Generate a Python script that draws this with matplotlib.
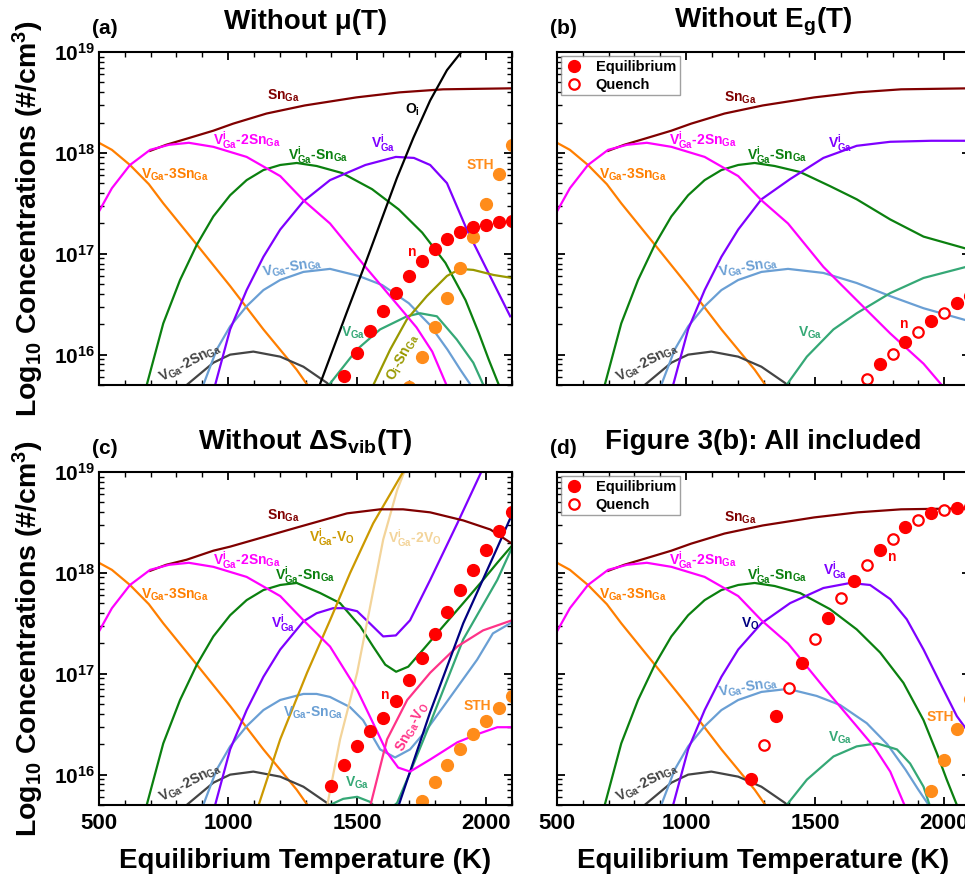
import matplotlib
matplotlib.use("Agg")
import matplotlib.pyplot as plt
import numpy as np
from matplotlib.ticker import LogLocator, MultipleLocator, FuncFormatter, NullFormatter
from matplotlib.lines import Line2D

plt.rcParams["font.family"] = ["Liberation Sans", "DejaVu Sans"]
plt.rcParams["font.weight"] = "bold"
plt.rcParams["axes.labelweight"] = "bold"
plt.rcParams["mathtext.fontset"] = "custom"
plt.rcParams["mathtext.rm"] = "Liberation Sans:bold"
plt.rcParams["mathtext.it"] = "Liberation Sans:bold"
plt.rcParams["mathtext.bf"] = "Liberation Sans:bold"

# ---- data: temperature (K) and log10 concentration (cm^-3)

# curves shared by several panels
sn_T = [698, 760, 839, 943, 1020, 1149, 1297, 1497, 1665, 1833, 2100]
sn_L = [18.02, 18.08, 18.14, 18.22, 18.29, 18.39, 18.47, 18.55, 18.60, 18.63, 18.64]

v2sn_T = [500, 550, 620, 698, 771, 848, 943, 1072, 1202, 1292, 1395, 1532, 1661, 1730, 1791, 1846]
v2sn_L = [17.42, 17.65, 17.88, 18.03, 18.08, 18.10, 18.06, 17.96, 17.77, 17.53, 17.30, 16.87, 16.48, 16.27, 16.03, 15.70]

v3sn_T = [500, 550, 620, 693, 749, 879, 1008, 1137, 1266, 1307]
v3sn_L = [18.10, 18.03, 17.88, 17.69, 17.50, 17.09, 16.68, 16.25, 15.85, 15.70]

vsn1_T = [685, 749, 814, 879, 943, 1008, 1072, 1137, 1202, 1266, 1343, 1442, 1558, 1661, 1752, 1842, 1920, 1972, 2010, 2049]
vsn1_L = [15.70, 16.31, 16.74, 17.09, 17.37, 17.58, 17.73, 17.83, 17.88, 17.90, 17.87, 17.80, 17.64, 17.44, 17.21, 16.91, 16.54, 16.21, 15.95, 15.70]

vgasn_T = [904, 956, 1008, 1072, 1137, 1202, 1292, 1395, 1506, 1597, 1700, 1780, 1850, 1900, 1945]
vgasn_L = [15.70, 16.05, 16.28, 16.48, 16.64, 16.74, 16.82, 16.85, 16.78, 16.69, 16.51, 16.30, 16.05, 15.85, 15.68]

v2sn_gray_T = [840, 943, 1008, 1098, 1202, 1292, 1383, 1400]
v2sn_gray_L = [15.70, 15.92, 16.00, 16.03, 15.98, 15.88, 15.72, 15.68]

# (a) without mu(T)
a_vi_T = [950, 1008, 1072, 1137, 1202, 1292, 1395, 1532, 1650, 1720, 1783, 1848, 1925, 2003, 2093]
a_vi_L = [15.70, 16.25, 16.64, 16.97, 17.24, 17.52, 17.73, 17.88, 17.96, 17.95, 17.88, 17.70, 17.24, 16.84, 16.38]
a_vga_T = [1391, 1499, 1589, 1693, 1744, 1809, 1886, 1950, 1989]
a_vga_L = [15.70, 16.05, 16.25, 16.38, 16.41, 16.38, 16.15, 15.92, 15.70]
a_oisn_T = [1563, 1628, 1693, 1770, 1848, 1899, 1950, 2028, 2100]
a_oisn_L = [15.70, 16.05, 16.35, 16.58, 16.78, 16.85, 16.84, 16.79, 16.76]
a_oi_T = [1355, 1460, 1524, 1589, 1654, 1718, 1783, 1848, 1910]
a_oi_L = [15.70, 16.42, 16.85, 17.30, 17.75, 18.15, 18.52, 18.82, 19.02]
a_n_T = [1450, 1500, 1550, 1600, 1650, 1700, 1750, 1800, 1850, 1900, 1950, 2000, 2050, 2100]
a_n_L = [15.79, 16.02, 16.23, 16.43, 16.61, 16.78, 16.93, 17.05, 17.15, 17.22, 17.27, 17.29, 17.31, 17.32]
a_sth_T = [1700, 1750, 1800, 1850, 1900, 1950, 2000, 2050, 2100]
a_sth_L = [15.68, 15.98, 16.27, 16.56, 16.86, 17.17, 17.49, 17.79, 18.08]

# (b) without Eg(T)
b_v2sn_T = [500, 550, 620, 698, 771, 848, 943, 1072, 1202, 1292, 1395, 1532, 1661, 1791, 1920, 1990]
b_v2sn_L = [17.42, 17.65, 17.88, 18.03, 18.08, 18.10, 18.06, 17.96, 17.77, 17.53, 17.30, 16.87, 16.54, 16.21, 15.91, 15.70]
b_vsn1_T = [685, 749, 814, 879, 943, 1008, 1072, 1137, 1202, 1266, 1343, 1442, 1558, 1661, 1791, 1920, 2100]
b_vsn1_L = [15.70, 16.31, 16.74, 17.09, 17.37, 17.58, 17.73, 17.83, 17.88, 17.90, 17.87, 17.81, 17.67, 17.54, 17.34, 17.17, 17.04]
b_vi_T = [950, 1008, 1072, 1137, 1202, 1292, 1403, 1532, 1661, 1791, 1950, 2100]
b_vi_L = [15.70, 16.25, 16.64, 16.97, 17.24, 17.54, 17.74, 17.95, 18.07, 18.11, 18.12, 18.12]
b_vgasn_T = [904, 956, 1008, 1072, 1137, 1202, 1292, 1395, 1532, 1661, 1791, 1920, 2100]
b_vgasn_L = [15.70, 16.05, 16.28, 16.48, 16.64, 16.74, 16.82, 16.85, 16.81, 16.71, 16.58, 16.46, 16.33]
b_vga_T = [1384, 1468, 1571, 1661, 1791, 1920, 2100]
b_vga_L = [15.68, 15.98, 16.25, 16.41, 16.61, 16.76, 16.88]
b_eq_T = [1750, 1850, 1950, 2050, 2100]
b_eq_L = [15.91, 16.13, 16.33, 16.51, 16.58]
b_q_T = [1700, 1800, 1900, 2000]
b_q_L = [15.76, 16.01, 16.22, 16.41]

# (c) without dS_vib(T)
c_sn_T = [698, 760, 839, 943, 1008, 1267, 1461, 1589, 1678, 1783, 1911, 2016, 2100]
c_sn_L = [18.02, 18.08, 18.13, 18.22, 18.26, 18.45, 18.59, 18.63, 18.63, 18.60, 18.52, 18.43, 18.29]
c_v2sn_T = [500, 550, 620, 698, 771, 848, 943, 1072, 1202, 1292, 1395, 1500, 1562, 1616, 1659, 1705, 1783, 1888, 1965, 2043, 2100]
c_v2sn_L = [17.42, 17.65, 17.88, 18.03, 18.08, 18.10, 18.06, 17.96, 17.77, 17.53, 17.27, 16.84, 16.51, 16.22, 16.07, 16.03, 16.15, 16.32, 16.40, 16.47, 16.47]
c_vsn1_T = [685, 749, 814, 879, 943, 1008, 1072, 1137, 1202, 1266, 1357, 1434, 1512, 1562, 1609, 1651, 1698, 1756, 1833, 1911, 1988, 2043, 2100]
c_vsn1_L = [15.70, 16.31, 16.74, 17.09, 17.37, 17.58, 17.73, 17.83, 17.88, 17.90, 17.80, 17.70, 17.47, 17.27, 17.09, 17.02, 17.07, 17.24, 17.47, 17.70, 17.93, 18.10, 18.27]
c_vi_T = [950, 1008, 1072, 1137, 1202, 1292, 1343, 1407, 1450, 1500, 1549, 1601, 1650, 1705, 1783, 1888, 1990]
c_vi_L = [15.70, 16.25, 16.64, 16.97, 17.24, 17.52, 17.60, 17.65, 17.65, 17.62, 17.50, 17.37, 17.38, 17.53, 17.93, 18.49, 19.05]
c_vgasn_T = [904, 956, 1008, 1072, 1137, 1202, 1292, 1343, 1395, 1472, 1523, 1589, 1647, 1705, 1768, 1833, 1965, 2026, 2100]
c_vgasn_L = [15.70, 16.05, 16.28, 16.48, 16.64, 16.74, 16.80, 16.80, 16.77, 16.67, 16.54, 16.25, 16.17, 16.25, 16.44, 16.67, 17.14, 17.40, 17.51]
c_vga_T = [1395, 1446, 1500, 1550, 1601, 1655, 1705, 1783, 1911, 2043, 2100]
c_vga_L = [15.70, 15.76, 15.78, 15.73, 15.60, 15.72, 16.02, 16.51, 17.34, 17.93, 18.25]
c_vvo_T = [1116, 1202, 1306, 1395, 1473, 1562, 1678, 1700]
c_vvo_L = [15.68, 16.35, 17.01, 17.53, 18.00, 18.49, 19.00, 19.08]
c_v2vo_T = [1383, 1434, 1500, 1550, 1601, 1655, 1690]
c_v2vo_L = [15.68, 16.35, 17.01, 17.66, 18.33, 18.82, 19.05]
c_vo_T = [1659, 1783, 1911, 2043, 2100]
c_vo_L = [15.68, 16.62, 17.50, 18.25, 18.58]
c_snvo_T = [1550, 1616, 1694, 1783, 1888, 1988, 2100]
c_snvo_L = [15.68, 16.35, 16.74, 17.01, 17.27, 17.43, 17.53]
c_n_T = [1400, 1450, 1500, 1550, 1600, 1650, 1700, 1750, 1800, 1850, 1900, 1950, 2000, 2050, 2100]
c_n_L = [15.89, 16.10, 16.28, 16.43, 16.56, 16.73, 16.94, 17.16, 17.39, 17.61, 17.83, 18.03, 18.23, 18.42, 18.60]
c_sth_T = [1750, 1800, 1850, 1900, 1950, 2000, 2050, 2100]
c_sth_L = [15.74, 15.93, 16.10, 16.25, 16.40, 16.53, 16.66, 16.78]

# (d) all included
d_vi_T = [950, 1008, 1072, 1137, 1202, 1292, 1403, 1532, 1636, 1713, 1791, 1855, 1920, 1984, 2049, 2100]
d_vi_L = [15.70, 16.25, 16.64, 16.97, 17.24, 17.50, 17.70, 17.85, 17.90, 17.88, 17.74, 17.54, 17.24, 16.91, 16.58, 16.40]
d_vga_T = [1384, 1468, 1571, 1661, 1739, 1817, 1868, 1920, 1946]
d_vga_L = [15.68, 15.95, 16.18, 16.28, 16.31, 16.25, 16.11, 15.88, 15.68]
d_eq_T = [1250, 1350, 1450, 1550, 1650, 1750, 1850, 1950, 2050, 2100]
d_eq_L = [15.96, 16.58, 17.11, 17.55, 17.92, 18.23, 18.45, 18.59, 18.64, 18.65]
d_q_T = [1300, 1400, 1500, 1600, 1700, 1800, 1900, 2000]
d_q_L = [16.29, 16.86, 17.34, 17.75, 18.08, 18.34, 18.52, 18.62]
d_sth_T = [1950, 2000, 2050, 2100]
d_sth_L = [15.84, 16.15, 16.45, 16.75]

# colours
C_SN = "#800000"
C_2SN = "#ff00ff"
C_3SN = "#ff7f00"
C_1SN = "#0b800f"
C_VI = "#7f00ff"
C_VSN = "#6a9fd4"
C_GRAY = "#444444"
C_VGA = "#35a876"
C_OSN = "#999900"
C_VVO = "#cc9900"
C_V2VO = "#f3d49a"
C_VO = "#000080"
C_SNVO = "#ff3388"
C_RED = "#ff0000"
C_STH = "#ff8c1a"

LW = 1.6
MS = 8.5

fig = plt.figure(figsize=(9.65, 8.76), dpi=100)
W, H = 413 / 965, 333 / 876
ax_a = fig.add_axes([99 / 965, 1 - 385 / 876, W, H])
ax_b = fig.add_axes([557 / 965, 1 - 385 / 876, W, H])
ax_c = fig.add_axes([99 / 965, 1 - 805 / 876, W, H])
ax_d = fig.add_axes([557 / 965, 1 - 805 / 876, W, H])


def curve(ax, T, L, c, lw=LW):
    ax.plot(T, np.power(10.0, L), color=c, lw=lw, solid_joinstyle="round")


def dots(ax, T, L, c, filled=True):
    if filled:
        ax.plot(T, np.power(10.0, L), "o", color=c, ms=MS, mec=c, ls="none")
    else:
        ax.plot(T, np.power(10.0, L), "o", mfc="white", mec=c, mew=1.6, ms=MS - 1, ls="none")


def lab(ax, T, L, s, c, rot=0):
    ax.text(T, 10 ** L, s, color=c, fontsize=10, ha="center", va="center", rotation=rot)


def style(ax, left_labels, bottom_labels):
    ax.set_yscale("log")
    ax.set_xlim(500, 2100)
    ax.set_ylim(5e15, 1e19)
    ax.xaxis.set_major_locator(MultipleLocator(500))
    ax.xaxis.set_minor_locator(MultipleLocator(100))
    ax.yaxis.set_major_locator(LogLocator(base=10, numticks=10))
    ax.yaxis.set_minor_locator(LogLocator(base=10, subs=np.arange(2, 10), numticks=20))
    ax.yaxis.set_minor_formatter(NullFormatter())
    ax.yaxis.set_major_formatter(FuncFormatter(lambda v, p: r"$10^{%d}$" % round(np.log10(v))))
    ax.tick_params(which="both", direction="in", top=True, right=True)
    ax.tick_params(which="major", length=6, width=1.3)
    ax.tick_params(which="minor", length=3.5, width=1.0)
    ax.tick_params(axis="y", labelsize=15, pad=3)
    ax.tick_params(axis="x", labelsize=16, pad=6)
    for s in ax.spines.values():
        s.set_linewidth(1.5)
    ax.tick_params(labelleft=left_labels, labelbottom=bottom_labels)
    if left_labels:
        ax.set_ylabel("Log$_{10}$ Concentrations (#/cm$^3$)", fontsize=20.5)
        ax.yaxis.set_label_coords(-0.128, 0.5)
    if bottom_labels:
        ax.set_xlabel("Equilibrium Temperature (K)", fontsize=20)
        ax.xaxis.set_label_coords(0.5, -0.13)


def head(ax, letter, title):
    ax.text(0.015, 1.07, letter, transform=ax.transAxes, fontsize=15, ha="center", va="center")
    ax.text(0.5, 1.09, title, transform=ax.transAxes, fontsize=20, ha="center", va="center")


def legend(ax):
    h = [Line2D([], [], marker="o", ls="none", color=C_RED, ms=MS),
         Line2D([], [], marker="o", ls="none", mfc="white", mec=C_RED, mew=1.6, ms=MS - 1)]
    lg = ax.legend(h, ["Equilibrium", "Quench"], loc="upper left", fontsize=10.5, frameon=True,
                   fancybox=False, edgecolor="#888888", borderaxespad=0.3, borderpad=0.25,
                   labelspacing=0.25, handletextpad=0.9, handlelength=1.2)
    lg.get_frame().set_linewidth(1.0)


# ---- (a)
ax = ax_a
curve(ax, v3sn_T, v3sn_L, C_3SN)
curve(ax, v2sn_gray_T, v2sn_gray_L, C_GRAY)
curve(ax, vgasn_T, vgasn_L, C_VSN)
curve(ax, vsn1_T, vsn1_L, C_1SN)
curve(ax, a_vi_T, a_vi_L, C_VI)
curve(ax, a_vga_T, a_vga_L, C_VGA)
curve(ax, a_oisn_T, a_oisn_L, C_OSN)
curve(ax, sn_T, sn_L, C_SN)
curve(ax, v2sn_T, v2sn_L, C_2SN)
curve(ax, a_oi_T, a_oi_L, "black")
dots(ax, a_sth_T, a_sth_L, C_STH)
dots(ax, a_n_T, a_n_L, C_RED)
lab(ax, 1213, 18.57, "Sn$_{Ga}$", C_SN)
lab(ax, 1713, 18.43, "O$_{i}$", "black")
lab(ax, 1074, 18.13, "V$^{i}_{Ga}$-2Sn$_{Ga}$", C_2SN)
lab(ax, 1349, 17.98, "V$^{i}_{Ga}$-Sn$_{Ga}$", C_1SN)
lab(ax, 1601, 18.10, "V$^{i}_{Ga}$", C_VI)
lab(ax, 795, 17.78, "V$_{Ga}$-3Sn$_{Ga}$", C_3SN)
lab(ax, 1977, 17.88, "STH", C_STH)
lab(ax, 1713, 17.02, "n", C_RED)
lab(ax, 1248, 16.86, "V$_{Ga}$-Sn$_{Ga}$", C_VSN, 10)
lab(ax, 1485, 16.22, "V$_{Ga}$", C_VGA)
lab(ax, 1678, 15.97, "O$_{i}$-Sn$_{Ga}$", C_OSN, 62)
lab(ax, 853, 15.92, "V$_{Ga}$-2Sn$_{Ga}$", C_GRAY, 28)
style(ax, True, False)
head(ax, "(a)", "Without \u03bc(T)")

# ---- (b)
ax = ax_b
curve(ax, v3sn_T, v3sn_L, C_3SN)
curve(ax, v2sn_gray_T, v2sn_gray_L, C_GRAY)
curve(ax, b_vgasn_T, b_vgasn_L, C_VSN)
curve(ax, b_vsn1_T, b_vsn1_L, C_1SN)
curve(ax, b_vi_T, b_vi_L, C_VI)
curve(ax, b_vga_T, b_vga_L, C_VGA)
curve(ax, sn_T, sn_L, C_SN)
curve(ax, b_v2sn_T, b_v2sn_L, C_2SN)
dots(ax, b_eq_T, b_eq_L, C_RED)
dots(ax, b_q_T, b_q_L, C_RED, filled=False)
lab(ax, 1209, 18.55, "Sn$_{Ga}$", C_SN)
lab(ax, 1066, 18.13, "V$^{i}_{Ga}$-2Sn$_{Ga}$", C_2SN)
lab(ax, 1353, 17.98, "V$^{i}_{Ga}$-Sn$_{Ga}$", C_1SN)
lab(ax, 1597, 18.10, "V$^{i}_{Ga}$", C_VI)
lab(ax, 795, 17.78, "V$_{Ga}$-3Sn$_{Ga}$", C_3SN)
lab(ax, 1240, 16.86, "V$_{Ga}$-Sn$_{Ga}$", C_VSN, 10)
lab(ax, 1481, 16.22, "V$_{Ga}$", C_VGA)
lab(ax, 849, 15.92, "V$_{Ga}$-2Sn$_{Ga}$", C_GRAY, 28)
lab(ax, 1845, 16.30, "n", C_RED)
style(ax, False, False)
legend(ax)
head(ax, "(b)", "Without E$_{g}$(T)")

# ---- (c)
ax = ax_c
curve(ax, v3sn_T, v3sn_L, C_3SN)
curve(ax, v2sn_gray_T, v2sn_gray_L, C_GRAY)
curve(ax, c_vgasn_T, c_vgasn_L, C_VSN)
curve(ax, c_vsn1_T, c_vsn1_L, C_1SN)
curve(ax, c_vi_T, c_vi_L, C_VI)
curve(ax, c_vga_T, c_vga_L, C_VGA)
curve(ax, c_v2vo_T, c_v2vo_L, C_V2VO)
curve(ax, c_vvo_T, c_vvo_L, C_VVO)
curve(ax, c_snvo_T, c_snvo_L, C_SNVO)
curve(ax, c_vo_T, c_vo_L, C_VO)
curve(ax, c_sn_T, c_sn_L, C_SN)
curve(ax, c_v2sn_T, c_v2sn_L, C_2SN)
dots(ax, c_sth_T, c_sth_L, C_STH)
dots(ax, c_n_T, c_n_L, C_RED)
lab(ax, 1213, 18.57, "Sn$_{Ga}$", C_SN)
lab(ax, 1403, 18.36, "V$^{i}_{Ga}$-V$_{O}$", C_VVO)
lab(ax, 1725, 18.35, "V$^{i}_{Ga}$-2V$_{O}$", C_V2VO)
lab(ax, 1074, 18.13, "V$^{i}_{Ga}$-2Sn$_{Ga}$", C_2SN)
lab(ax, 1298, 17.98, "V$^{i}_{Ga}$-Sn$_{Ga}$", C_1SN)
lab(ax, 1213, 17.50, "V$^{i}_{Ga}$", C_VI)
lab(ax, 795, 17.78, "V$_{Ga}$-3Sn$_{Ga}$", C_3SN)
lab(ax, 1609, 16.79, "n", C_RED)
lab(ax, 1713, 16.47, "Sn$_{Ga}$-V$_{O}$", C_SNVO, 62)
lab(ax, 1330, 16.61, "V$_{Ga}$-Sn$_{Ga}$", C_VSN)
lab(ax, 1965, 16.68, "STH", C_STH)
lab(ax, 1500, 15.92, "V$_{Ga}$", C_VGA)
lab(ax, 853, 15.92, "V$_{Ga}$-2Sn$_{Ga}$", C_GRAY, 28)
style(ax, True, True)
head(ax, "(c)", "Without \u0394S$_{vib}$(T)")

# ---- (d)
ax = ax_d
curve(ax, v3sn_T, v3sn_L, C_3SN)
curve(ax, v2sn_gray_T, v2sn_gray_L, C_GRAY)
curve(ax, vgasn_T, vgasn_L, C_VSN)
curve(ax, vsn1_T, vsn1_L, C_1SN)
curve(ax, d_vi_T, d_vi_L, C_VI)
curve(ax, d_vga_T, d_vga_L, C_VGA)
curve(ax, sn_T, sn_L, C_SN)
curve(ax, v2sn_T, v2sn_L, C_2SN)
dots(ax, d_sth_T, d_sth_L, C_STH)
dots(ax, d_eq_T, d_eq_L, C_RED)
dots(ax, d_q_T, d_q_L, C_RED, filled=False)
lab(ax, 1209, 18.55, "Sn$_{Ga}$", C_SN)
lab(ax, 1066, 18.13, "V$^{i}_{Ga}$-2Sn$_{Ga}$", C_2SN)
lab(ax, 1353, 17.98, "V$^{i}_{Ga}$-Sn$_{Ga}$", C_1SN)
lab(ax, 1578, 18.03, "V$^{i}_{Ga}$", C_VI)
lab(ax, 795, 17.78, "V$_{Ga}$-3Sn$_{Ga}$", C_3SN)
lab(ax, 1248, 17.50, "V$_{O}$", C_VO)
lab(ax, 1240, 16.86, "V$_{Ga}$-Sn$_{Ga}$", C_VSN, 10)
lab(ax, 1597, 16.37, "V$_{Ga}$", C_VGA)
lab(ax, 849, 15.92, "V$_{Ga}$-2Sn$_{Ga}$", C_GRAY, 28)
lab(ax, 1798, 18.16, "n", C_RED)
lab(ax, 1984, 16.57, "STH", C_STH)
style(ax, False, True)
legend(ax)
head(ax, "(d)", "Figure 3(b): All included")

fig.savefig("out.png", dpi=100)
